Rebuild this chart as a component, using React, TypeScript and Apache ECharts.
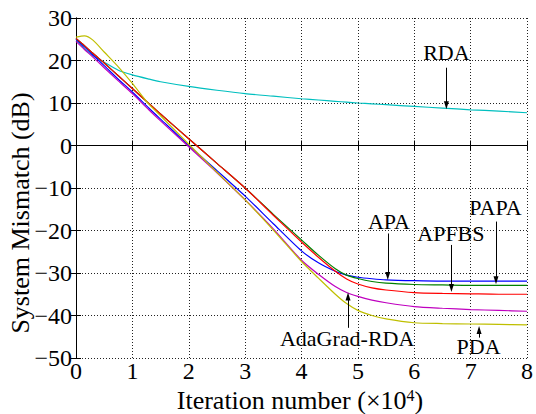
import React, { useEffect, useRef } from "react";
import * as echarts from "echarts";

// iteration number (x 10^4)
const xs = [0, 0.15, 0.3, 0.5, 0.75, 1, 1.3, 1.5, 2, 2.5, 3, 3.5, 4, 4.3, 4.6, 4.8, 5, 5.25, 5.5, 6, 6.5, 7, 7.5, 8];

const rda = [25.0, 22.8, 21.2, 19.6, 17.7, 16.6, 15.6, 15.0, 13.9, 13.0, 12.2, 11.6, 11.0, 10.7, 10.4, 10.2, 10.0, 9.8, 9.6, 9.2, 8.8, 8.4, 8.1, 7.7];
const apa = [25.0, 23.2, 21.3, 18.8, 15.6, 12.6, 8.7, 6.2, 0.0, -5.9, -11.9, -18.4, -24.8, -27.6, -29.6, -30.5, -31.0, -31.35, -31.6, -31.8, -31.9, -31.9, -31.9, -31.9];
const papa = [25.2, 23.5, 21.7, 19.4, 16.4, 13.4, 9.8, 7.4, 1.6, -4.2, -10.0, -16.2, -22.2, -25.8, -29.0, -30.5, -31.3, -32.0, -32.4, -32.7, -32.8, -32.9, -32.9, -32.9];
const apfbs = [25.2, 23.5, 21.7, 19.4, 16.4, 13.4, 9.8, 7.4, 1.6, -4.2, -10.0, -16.4, -22.7, -26.3, -29.6, -31.4, -32.6, -33.5, -34.0, -34.6, -34.8, -34.9, -35.0, -35.0];
const adagrad = [24.5, 22.6, 20.8, 18.3, 15.2, 12.2, 8.3, 5.8, -0.3, -6.4, -12.8, -19.6, -27.0, -30.3, -33.2, -34.6, -35.5, -36.4, -37.0, -37.9, -38.3, -38.6, -38.8, -39.0];
const pda = [25.5, 25.8, 24.8, 22.0, 18.5, 14.6, 9.6, 7.0, 0.3, -6.3, -12.8, -19.9, -27.3, -31.2, -35.0, -37.2, -38.8, -40.0, -40.8, -41.7, -41.9, -42.0, -42.1, -42.2];

const xTicks = [0, 1, 2, 3, 4, 5, 6, 7, 8];
const yTicks = [-50, -40, -30, -20, -10, 0, 10, 20, 30];

// annotations (data coordinates)
const annoNames = ["RDA", "APA", "APFBS", "PAPA", "AdaGrad-RDA", "PDA"];
const annoText = [[6.57, 21.8], [5.55, -17.8], [6.65, -20.8], [7.44, -14.5], [4.81, -45.5], [7.14, -47.4]];
const annoFrom = [[6.57, 18.3], [5.53, -20.7], [6.66, -23.4], [7.45, -17.9], [4.825, -42.9], [7.15, -45.2]];
const annoTo = [[6.57, 9.5], [5.53, -30.7], [6.66, -33.5], [7.45, -31.7], [4.825, -35.5], [7.15, -43.4]];

const FONT = "Times New Roman, Liberation Serif, DejaVu Serif, serif";

export default function App() {
  const ref = useRef<HTMLDivElement>(null);
  useEffect(() => {
    document.body.style.margin = "0";
    const chart = echarts.init(ref.current!, null, { renderer: "svg" });
    const mk = (name: string, ys: number[], color: string) => ({
      name,
      type: "line",
      data: xs.map((x, i) => [x, ys[i]]),
      showSymbol: false,
      smooth: 0.25,
      lineStyle: { color, width: 1.2 },
      itemStyle: { color },
      silent: true,
      z: 3,
    });
    const fmtY = (v: number) => (v < 0 ? "\u2212" + Math.abs(v) : String(v));
    const axisCommon = {
      axisLine: { show: true, lineStyle: { color: "#000", width: 1 } },
      axisTick: { show: true, inside: true, length: 5, lineStyle: { color: "#000" } },
    };
    const gridLine = { show: true, lineStyle: { color: "#222", type: [1, 2], width: 1 } };
    const series: any[] = [
      mk("RDA", rda, "#00BFBF"),
      mk("APA", apa, "#0000FF"),
      mk("PAPA", papa, "#008000"),
      mk("APFBS", apfbs, "#FF0000"),
      mk("AdaGrad-RDA", adagrad, "#BF00BF"),
      mk("PDA", pda, "#BFBF00"),
    ];
    series.push({
      type: "line",
      data: [],
      silent: true,
      z: 5,
      markLine: {
        silent: true,
        symbol: ["none", "triangle"],
        symbolSize: [5, 8],
        label: { show: false },
        lineStyle: { color: "#000", width: 1, type: "solid" },
        emphasis: { disabled: true },
        data: annoNames.map((_, i) => [{ coord: annoFrom[i] }, { coord: annoTo[i] }]),
      },
      markPoint: {
        silent: true,
        symbol: "rect",
        symbolSize: 1,
        itemStyle: { color: "rgba(0,0,0,0)" },
        label: {
          show: true,
          position: "inside",
          color: "#000",
          fontFamily: FONT,
          fontSize: 22,
          formatter: (p: any) => p.name,
        },
        data: annoNames.map((n, i) => ({ name: n, coord: annoText[i] })),
      },
    });
    chart.setOption({
      animation: false,
      backgroundColor: "#fff",
      textStyle: { fontFamily: FONT },
      grid: { left: 76, right: 6, top: 18, bottom: 56, containLabel: false },
      xAxis: [
        {
          type: "value",
          min: 0,
          max: 8,
          interval: 1,
          ...axisCommon,
          axisLabel: {
            color: "#000",
            fontFamily: FONT,
            fontSize: 24,
            margin: 1,
            customValues: xTicks,
          },
          splitLine: gridLine,
        },
        {
          type: "value",
          position: "top",
          min: 0,
          max: 8,
          interval: 1,
          ...axisCommon,
          axisLabel: { show: false },
          splitLine: { show: false },
        },
      ],
      yAxis: [
        {
          type: "value",
          min: -50,
          max: 30,
          interval: 10,
          ...axisCommon,
          axisLabel: {
            color: "#000",
            fontFamily: FONT,
            fontSize: 24,
            margin: 4,
            formatter: fmtY,
            customValues: yTicks,
          },
          splitLine: gridLine,
        },
        {
          type: "value",
          position: "right",
          min: -50,
          max: 30,
          interval: 10,
          ...axisCommon,
          axisLabel: { show: false },
          splitLine: { show: false },
        },
      ],
      series,
      graphic: [
        {
          type: "text",
          x: 20,
          y: 213,
          rotation: Math.PI / 2,
          style: {
            text: "System Mismatch (dB)",
            fontFamily: FONT,
            fontSize: 26,
            fill: "#000",
            align: "center",
            verticalAlign: "middle",
          },
        },
        {
          type: "text",
          x: 300,
          y: 400,
          style: {
            text: "{a|Iteration number (\u00D710}{s|4}{a|)}",
            fill: "#000",
            fontFamily: FONT,
            fontSize: 26,
            align: "center",
            verticalAlign: "middle",
            rich: {
              a: { fontFamily: FONT, fontSize: 26, verticalAlign: "bottom", fill: "#000" },
              s: { fontFamily: FONT, fontSize: 16, verticalAlign: "bottom", padding: [0, 0, 10, 0], fill: "#000" },
            },
          },
        },
      ],
    });
    return () => chart.dispose();
  }, []);
  return <div ref={ref} style={{ width: 536, height: 414 }} />;
}
